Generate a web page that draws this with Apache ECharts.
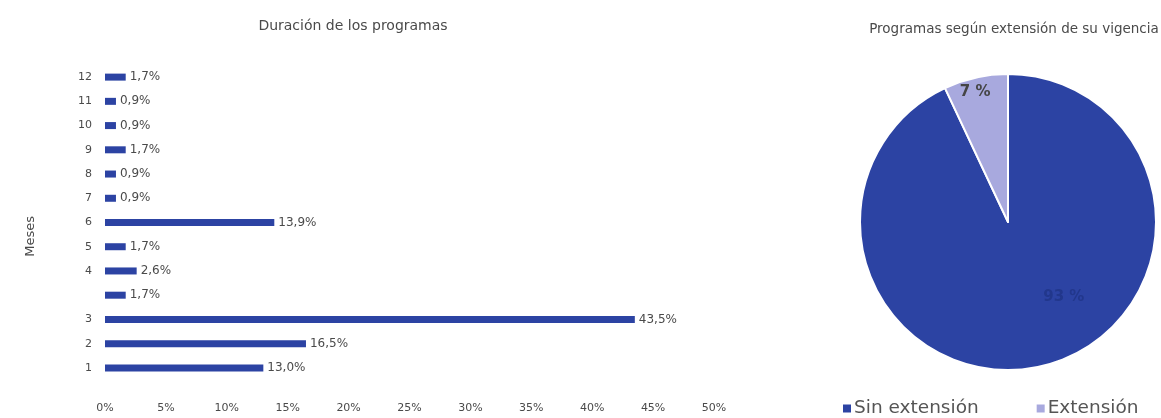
<!DOCTYPE html>
<html>
<head>
<meta charset="utf-8">
<script src="https://cdn.jsdelivr.net/npm/echarts@6/dist/echarts.min.js"></script>
<style>
  html, body { margin: 0; padding: 0; background: #ffffff; }
  #chart { width: 1161px; height: 418px; }
</style>
</head>
<body>
<div id="chart"></div>
<script>
// Duración de los programas (meses) – share of programmes per duration
const meses = ['1', '2', '3', '', '4', '5', '6', '7', '8', '9', '10', '11', '12'];
const porcentajes = [13.0, 16.5, 43.5, 1.7, 2.6, 1.7, 13.9, 0.9, 0.9, 1.7, 0.9, 0.9, 1.7];

// Programas según extensión de su vigencia
const tipos = ['Sin extensión', 'Extensión'];
const partes = [93, 7];

const xTicks = { min: 0, max: 50, interval: 5 };

const DARK = '#2c43a3';
const LIGHT = '#a8a9de';
const TEXT = '#4a4a4a';
const FONT = '"DejaVu Sans", "Noto Sans", sans-serif';

const fmt = v => v.toFixed(1).replace('.', ',') + '%';

const chart = echarts.init(document.getElementById('chart'), null, { renderer: 'canvas' });

chart.setOption({
  backgroundColor: '#ffffff',
  animation: false,
  textStyle: { fontFamily: FONT },
  title: [
    {
      text: 'Duración de los programas',
      left: 348, top: 14, textAlign: 'center',
      textStyle: { fontSize: 14, fontWeight: 'normal', color: TEXT, fontFamily: FONT }
    },
    {
      text: 'Programas según extensión de su vigencia',
      left: 1009, top: 17, textAlign: 'center',
      textStyle: { fontSize: 13.5, fontWeight: 'normal', color: TEXT, fontFamily: FONT }
    }
  ],
  legend: {
    data: tipos,
    left: 838, top: 394,
    icon: 'rect', itemWidth: 8, itemHeight: 8, itemGap: 58,
    itemStyle: { borderWidth: 0 },
    textStyle: { fontSize: 18.5, color: '#555555', fontFamily: FONT, padding: [0, 0, 0, -2] }
  },
  grid: { left: 105, width: 609, top: 65, bottom: 38, containLabel: false },
  xAxis: {
    type: 'value',
    min: xTicks.min, max: xTicks.max, interval: xTicks.interval,
    axisLine: { show: false }, axisTick: { show: false }, splitLine: { show: false },
    axisLabel: { formatter: '{value}%', fontSize: 11, color: TEXT, margin: 23, fontFamily: FONT }
  },
  yAxis: {
    type: 'category',
    data: meses,
    axisLine: { show: false }, axisTick: { show: false }, splitLine: { show: false },
    axisLabel: { fontSize: 11, color: TEXT, margin: 13, fontFamily: FONT }
  },
  graphic: [
    {
      type: 'text', left: 24, top: 216, rotation: Math.PI / 2,
      style: { text: 'Meses', fontSize: 13, fill: TEXT, fontFamily: FONT }
    }
  ],
  series: [
    {
      type: 'bar',
      data: porcentajes,
      barWidth: 7,
      itemStyle: { color: DARK },
      label: {
        show: true, position: 'right', distance: 4,
        fontSize: 12, color: TEXT, fontFamily: FONT,
        formatter: p => fmt(p.value)
      }
    },
    {
      type: 'pie',
      center: [1008, 222],
      radius: 148,
      startAngle: 90,
      clockwise: true,
      data: tipos.map((n, i) => ({
        name: n, value: partes[i],
        label: { color: i === 0 ? '#22378c' : '#454545' }
      })),
      color: [DARK, LIGHT],
      itemStyle: { borderColor: '#ffffff', borderWidth: 2 },
      label: {
        show: true, position: 'inside',
        formatter: p => p.value + ' %',
        fontSize: 15, fontWeight: 'bold', fontFamily: FONT
      },
      labelLayout: p => p.dataIndex === 1 ? { dx: -16, dy: -55 } : { dx: 39, dy: 0 },
      labelLine: { show: false },
      emphasis: { disabled: true }
    }
  ]
});
</script>
</body>
</html>
